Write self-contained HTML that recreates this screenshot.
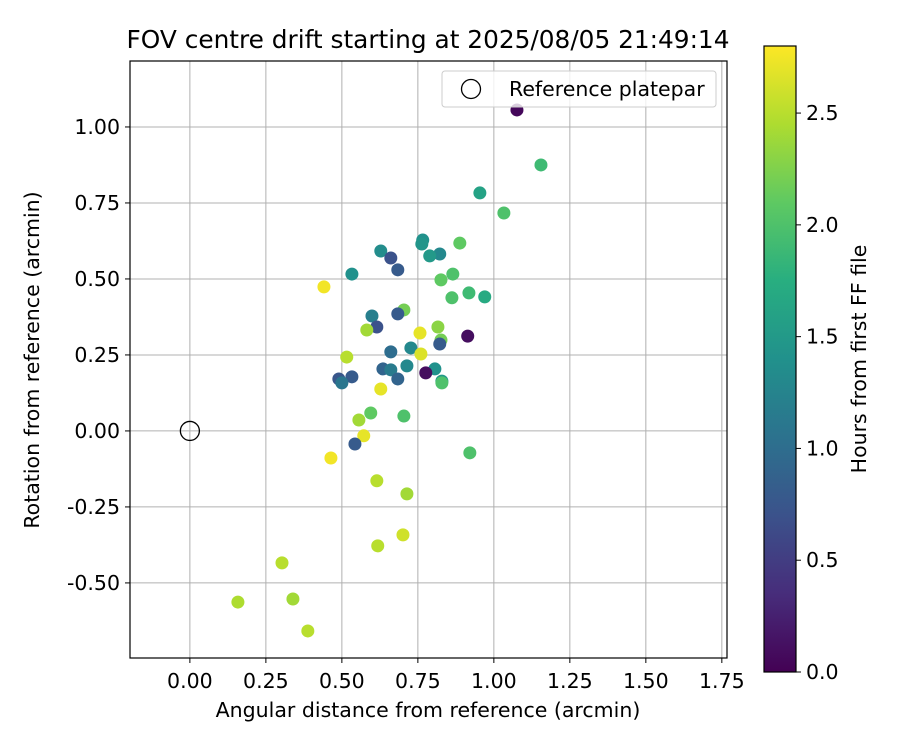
<!DOCTYPE html>
<html><head><meta charset="utf-8"><style>
body{margin:0;background:#fff;font-family:"Liberation Sans","DejaVu Sans",sans-serif;}
svg text{font-family:"DejaVu Sans","Liberation Sans",sans-serif;}
</style></head><body>
<svg id="chart" width="900" height="750" xmlns="http://www.w3.org/2000/svg">
<defs>
<linearGradient id="vir" x1="0" y1="1" x2="0" y2="0">
<stop offset="0" stop-color="#440154"/><stop offset="0.125" stop-color="#472d7b"/><stop offset="0.25" stop-color="#3b528b"/><stop offset="0.375" stop-color="#2c728e"/><stop offset="0.5" stop-color="#21918c"/><stop offset="0.625" stop-color="#28ae80"/><stop offset="0.75" stop-color="#5ec962"/><stop offset="0.875" stop-color="#addc30"/><stop offset="1" stop-color="#fde725"/>
</linearGradient>
</defs>
<g id="grid"></g><g id="pts"></g><g id="axes"></g>
</svg>
<script>
const xs=[1.076,1.155,0.954,1.033,0.888,0.766,0.763,0.628,0.661,0.822,0.789,0.684,0.533,0.865,0.826,0.918,0.970,0.862,0.704,0.599,0.684,0.615,0.582,0.757,0.816,0.826,0.914,0.822,0.727,0.516,0.661,0.760,0.490,0.533,0.635,0.661,0.714,0.806,0.500,0.684,0.776,0.829,0.829,0.628,0.595,0.704,0.556,0.572,0.543,0.921,0.464,0.615,0.714,0.701,0.618,0.303,0.158,0.339,0.388,0.441];
const ys=[1.056,0.875,0.783,0.717,0.618,0.628,0.615,0.592,0.569,0.582,0.576,0.530,0.516,0.516,0.497,0.454,0.441,0.438,0.398,0.378,0.385,0.342,0.332,0.322,0.342,0.299,0.312,0.286,0.273,0.243,0.260,0.253,0.171,0.178,0.204,0.201,0.214,0.204,0.158,0.171,0.191,0.164,0.158,0.138,0.059,0.049,0.036,-0.016,-0.043,-0.072,-0.089,-0.164,-0.207,-0.342,-0.378,-0.434,-0.563,-0.553,-0.658,0.474];
const hours=[0.05,1.9,1.6,2.0,2.1,1.4,1.45,1.35,0.7,1.3,1.5,0.8,1.4,2.0,2.1,1.9,1.7,2.0,2.2,1.2,0.8,0.7,2.4,2.7,2.3,2.2,0.1,0.8,1.3,2.5,1.0,2.65,0.75,0.8,0.9,1.15,1.3,1.4,1.1,0.9,0.1,1.5,2.0,2.7,2.1,2.0,2.4,2.7,0.8,2.0,2.75,2.5,2.4,2.6,2.5,2.5,2.45,2.4,2.5,2.75];
const xTicks=["0.00","0.25","0.50","0.75","1.00","1.25","1.50","1.75"];
const yTicks=["-0.50","-0.25","0.00","0.25","0.50","0.75","1.00"];
const cTicks=["0.0","0.5","1.0","1.5","2.0","2.5"];
const L=130,R=727,T=61,B=658,X0=-0.197,X1=1.767,Y0=-0.747,Y1=1.217,HMAX=2.8;
const sx=v=>L+(v-X0)/(X1-X0)*(R-L), sy=v=>B-(v-Y0)/(Y1-Y0)*(B-T);
const CBT=46,CBB=672,cy=v=>CBB-v/HMAX*(CBB-CBT);
const FS=20.5;
const vir=[[68,1,84],[71,45,123],[59,82,139],[44,114,142],[33,145,140],[40,174,128],[94,201,98],[173,220,48],[253,231,37]];
function col(h){let t=Math.max(0,Math.min(1,h/HMAX))*8,i=Math.min(7,Math.floor(t)),f=t-i;const a=vir[i],b=vir[i+1];return`rgb(${a.map((c,k)=>Math.round(c+(b[k]-c)*f)).join(',')})`;}
const NS="http://www.w3.org/2000/svg";
function mk(p,tag,at,txt){const e=document.createElementNS(NS,tag);for(const k in at)e.setAttribute(k,at[k]);if(txt!==undefined)e.textContent=txt;document.getElementById(p).appendChild(e);return e;}
xTicks.forEach(t=>{const x=sx(+t);
let g=mk('grid','line',{x1:x,x2:x,y1:T,y2:B,stroke:'#b0b0b0','stroke-width':1});


mk('axes','line',{x1:x,x2:x,y1:B,y2:B+5,stroke:'#000'});
let l=mk('axes','text',{x:x,y:B+30,'text-anchor':'middle','font-size':FS},t);

});
yTicks.forEach(t=>{const y=sy(+t);
let g=mk('grid','line',{x1:L,x2:R,y1:y,y2:y,stroke:'#b0b0b0','stroke-width':1});


mk('axes','line',{x1:L-5,x2:L,y1:y,y2:y,stroke:'#000'});
let l=mk('axes','text',{x:L-10,y:y+7,'text-anchor':'end','font-size':FS},t);

});
xs.forEach((v,i)=>{let c=mk('pts','circle',{cx:sx(v),cy:sy(ys[i]),r:6.5,fill:col(hours[i])});

});
let ref=mk('pts','circle',{cx:sx(0),cy:sy(0),r:9.5,fill:'none',stroke:'#000','stroke-width':1.3});


let fr=mk('axes','rect',{x:L,y:T,width:R-L,height:B-T,fill:'none',stroke:'#000','stroke-width':1.2});


let lg=mk('axes','rect',{x:442,y:71,width:274,height:36,rx:3,fill:'#fff','fill-opacity':0.8,stroke:'#ccc'});


mk('axes','circle',{cx:471,cy:89,r:9.5,fill:'none',stroke:'#000','stroke-width':1.3});
let lt=mk('axes','text',{x:509,y:96,'font-size':FS},'Reference platepar');


let ti=mk('axes','text',{x:428,y:48,'text-anchor':'middle','font-size':24.8},'FOV centre drift starting at 2025/08/05 21:49:14');


let xt=mk('axes','text',{x:428,y:717,'text-anchor':'middle','font-size':FS},'Angular distance from reference (arcmin)');


let yt=mk('axes','text',{x:0,y:0,'text-anchor':'middle','font-size':FS,transform:'translate(39,360) rotate(-90)'},'Rotation from reference (arcmin)');


let cb=mk('axes','rect',{x:764,y:CBT,width:32,height:CBB-CBT,fill:'url(#vir)',stroke:'#000','stroke-width':1.2});


cTicks.forEach(t=>{const y=cy(+t);
mk('axes','line',{x1:796,x2:801,y1:y,y2:y,stroke:'#000'});
let l=mk('axes','text',{x:806,y:y+7,'font-size':FS},t);

});
let ct=mk('axes','text',{x:0,y:0,'text-anchor':'middle','font-size':FS,transform:'translate(866,359) rotate(-90)'},'Hours from first FF file');


</script>
</body></html>
